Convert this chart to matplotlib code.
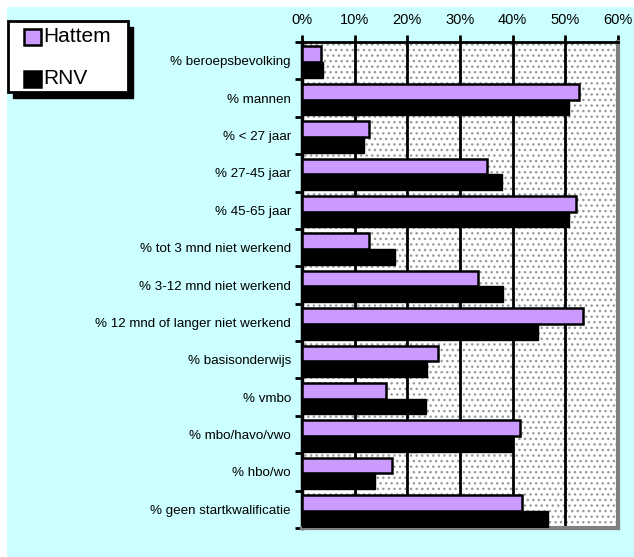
import numpy as np
import matplotlib
matplotlib.use("Agg")
from matplotlib import pyplot as plt
from matplotlib.patches import Rectangle

plt.rcParams['font.family'] = ['Liberation Sans', 'DejaVu Sans']
plt.rcParams['hatch.color'] = '#9a9a9a'
plt.rcParams['hatch.linewidth'] = 1.0

# gegevens
categorieen = [
    "% beroepsbevolking",
    "% mannen",
    "% < 27 jaar",
    "% 27-45 jaar",
    "% 45-65 jaar",
    "% tot 3 mnd niet werkend",
    "% 3-12 mnd niet werkend",
    "% 12 mnd of langer niet werkend",
    "% basisonderwijs",
    "% vmbo",
    "% mbo/havo/vwo",
    "% hbo/wo",
    "% geen startkwalificatie",
]
hattem = [3.7, 52.5, 12.8, 35.2, 52.0, 12.7, 33.4, 53.4, 25.9, 15.9, 41.3, 17.0, 41.7]
rnv = [3.9, 50.7, 11.8, 37.9, 50.7, 17.6, 38.1, 44.9, 23.7, 23.5, 40.0, 13.8, 46.8]
xticks = [0, 10, 20, 30, 40, 50, 60]
reeksen = ["Hattem", "RNV"]
kleuren = ["#CC99FF", "black"]

W, H = 634, 557


def px(x, y):
    # pixelpositie (vanaf linksboven) naar figuurcoordinaten
    return x / W, 1 - y / H


fig = plt.figure(figsize=(W / 100, H / 100), dpi=100)
fig.patch.set_facecolor('white')
# cyaan achtergrond met witte rand links/boven
fig.patches.append(Rectangle(px(7, H), 1, 1 - 7 / H, transform=fig.transFigure,
                             facecolor='#CCFFFF', edgecolor='none', zorder=-10))

ax = fig.add_axes([302 / W, 1 - 528 / H, 316 / W, 486 / H])
ax.patch.set_facecolor('white')
ax.patch.set_hatch('...')
ax.patch.set_edgecolor('#9a9a9a')
ax.patch.set_linewidth(0)

y = np.arange(len(categorieen))
h = 0.42
b1 = ax.barh(y - h / 2 + 0.04, hattem, height=h, color=kleuren[0], edgecolor='black',
             linewidth=1.8, zorder=3, label=reeksen[0])
b2 = ax.barh(y + h / 2 + 0.04, rnv, height=h, color=kleuren[1], edgecolor='black',
             linewidth=1.0, zorder=3, label=reeksen[1])

ax.set_xlim(0, 60)
ax.set_ylim(len(categorieen) - 0.5, -0.5)

ax.xaxis.tick_top()
ax.set_xticks(xticks)
ax.set_xticklabels([f"{v}%" for v in xticks], fontsize=10.5)
ax.tick_params(axis='x', direction='out', length=5, width=2, pad=6)
ax.grid(axis='x', color='black', linewidth=2, zorder=1)
ax.set_axisbelow(True)

ax.set_yticks(y)
ax.set_yticklabels(categorieen, fontsize=9.6)
ax.set_yticks(np.arange(len(categorieen) + 1) - 0.5, minor=True)
ax.tick_params(axis='y', which='major', length=0, pad=8)
ax.tick_params(axis='y', which='minor', direction='out', length=5, width=2)

ax.spines['top'].set_linewidth(2)
ax.spines['left'].set_linewidth(2.5)
ax.spines['right'].set_color('#808080')
ax.spines['right'].set_linewidth(3)
ax.spines['bottom'].set_color('#808080')
ax.spines['bottom'].set_linewidth(3)

# legenda met zwarte schaduw
x0, y0 = px(8, 92)
bw, bh = 120 / W, 71 / H
fig.patches.append(Rectangle((x0 + 5 / W, y0 - 6 / H), bw, bh, transform=fig.transFigure,
                             facecolor='black', edgecolor='black', zorder=5))
fig.patches.append(Rectangle((x0, y0), bw, bh, transform=fig.transFigure,
                             facecolor='white', edgecolor='black', linewidth=2, zorder=6))
for naam, kleur, ytop in zip(reeksen, kleuren, [28, 70]):
    sx, sy = px(24, ytop + 17)
    fig.patches.append(Rectangle((sx, sy), 17 / W, 16 / H, transform=fig.transFigure,
                                 facecolor=kleur, edgecolor='black', linewidth=1.8, zorder=7))
    tx, ty = px(43, ytop + 9)
    fig.text(tx, ty, naam, fontsize=15, va='center', ha='left', zorder=8)

fig.savefig("out.png", dpi=100, facecolor=fig.get_facecolor())
